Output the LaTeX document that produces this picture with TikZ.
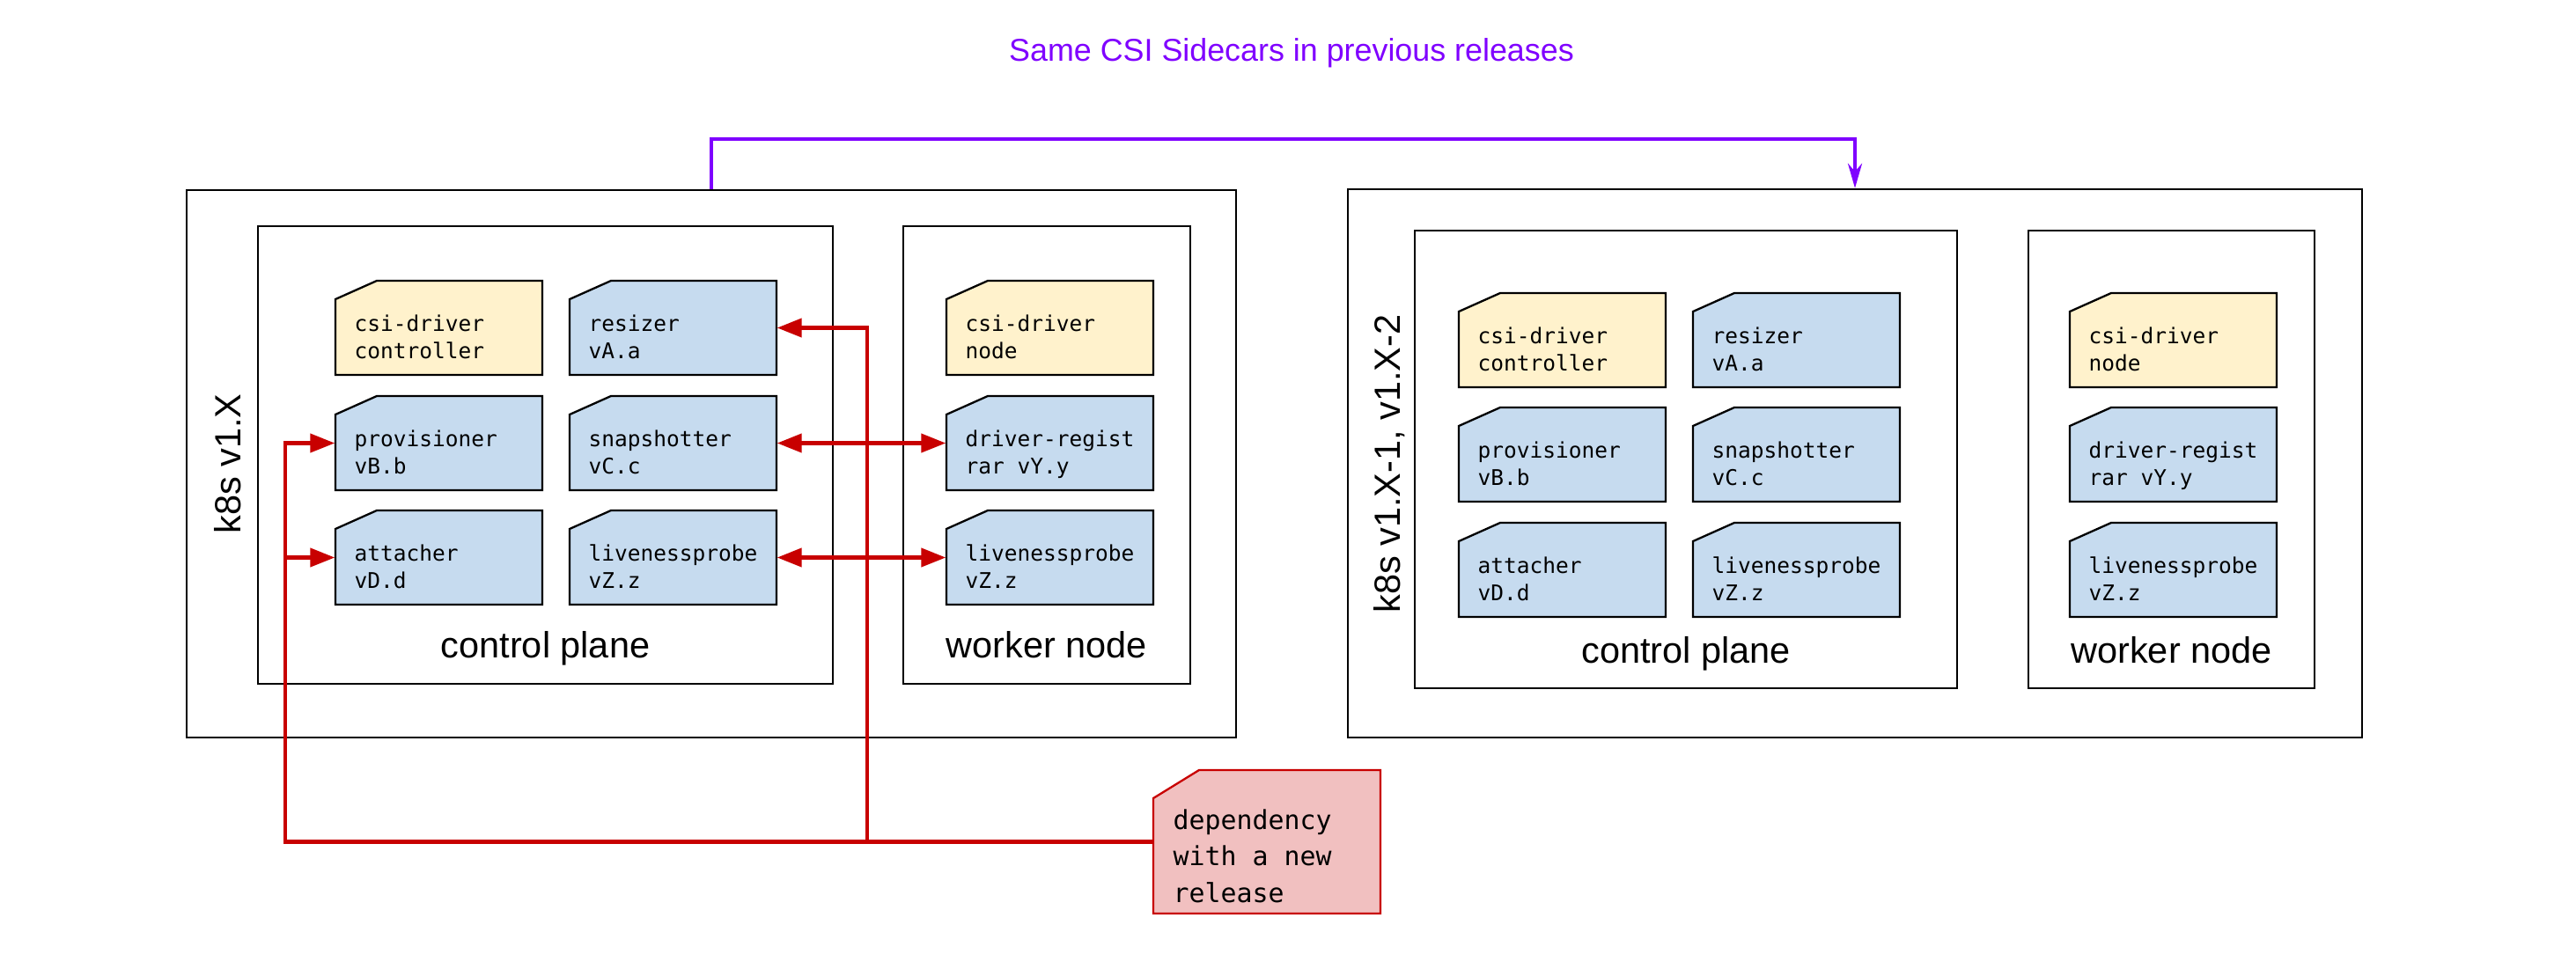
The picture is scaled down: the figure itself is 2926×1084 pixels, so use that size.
\documentclass[tikz,border=0pt]{standalone}
\usepackage{fontspec}
\usepackage{xcolor}
\usetikzlibrary{arrows.meta}
\newfontfamily\labelfont{Liberation Sans}
\newfontfamily\cardfont{DejaVu Sans Mono}
\definecolor{drvyellow}{HTML}{FFF2CC}
\definecolor{carblue}{HTML}{C6DBEF}
\definecolor{deppink}{HTML}{F1C0C0}
\definecolor{depred}{HTML}{C80000}
\definecolor{sidepurple}{HTML}{7F00FF}
\tikzset{
  hostbox/.style={draw,line width=0.23mm,inner sep=0},
  cardedge/.style={draw,line width=0.23mm},
  cardbox/.style={minimum width=23.5mm,minimum height=10.7mm,inner sep=0},
  cardtext/.style={anchor=north west,inner sep=0,align=left,font=\cardfont\fontsize{6.97pt}{8.82pt}\selectfont,execute at begin node=\strut},
  deptext/.style={anchor=north west,inner sep=0,align=left,font=\cardfont\fontsize{8.5pt}{11.8pt}\selectfont,execute at begin node=\strut},
  plane/.style={anchor=base,inner sep=0,font=\labelfont\fontsize{11.8pt}{14pt}\selectfont},
  k8slabel/.style={rotate=90,inner sep=0,font=\labelfont\fontsize{11.8pt}{14pt}\selectfont},
  titletext/.style={inner sep=0,text=sidepurple,font=\labelfont\fontsize{10.2pt}{12pt}\selectfont},
  dep/.style={draw=depred,line width=0.42mm},
  deparrow/.style={dep,-{Triangle[length=2.8mm,width=2.1mm]}},
  depboth/.style={dep,{Triangle[length=2.8mm,width=2.1mm]}-{Triangle[length=2.8mm,width=2.1mm]}},
  samelink/.style={draw=sidepurple,line width=0.42mm,-{Stealth[length=2.8mm,width=1.6mm,inset=0.9mm]}}
}
% name, left, top, fill, text
\newcommand{\sidecar}[5]{%
  \filldraw[cardedge,fill=#4] (#2,#3+21) -- (#2+47,#3) -- (#2+235,#3) -- (#2+235,#3+107) -- (#2,#3+107) -- cycle;
  \node[cardbox] (#1) at (#2+117.5,#3+53.5) {};
  \node[cardtext] at (#2+21,#3+38) {#5};
}
\begin{document}
\begin{tikzpicture}[x=0.1mm,y=-0.1mm]
\useasboundingbox (0,0) rectangle (2926,1084);
\node[hostbox,minimum width=119.2mm,minimum height=62.2mm] (k8sA) at (808,527) {};
\node[hostbox,minimum width=115.2mm,minimum height=62.3mm] (k8sB) at (2107,526.5) {};
\node[hostbox,minimum width=65.3mm,minimum height=52mm] (cpA) at (619.5,517) {};
\node[hostbox,minimum width=32.6mm,minimum height=52mm] (wnA) at (1189,517) {};
\node[hostbox,minimum width=61.6mm,minimum height=52mm] (cpB) at (1915,522) {};
\node[hostbox,minimum width=32.5mm,minimum height=52mm] (wnB) at (2466.5,522) {};

\sidecar{drvA}{381}{319}{drvyellow}{csi-driver\\controller}
\sidecar{resA}{647}{319}{carblue}{resizer\\vA.a}
\sidecar{provA}{381}{450}{carblue}{provisioner\\vB.b}
\sidecar{snapA}{647}{450}{carblue}{snapshotter\\vC.c}
\sidecar{attA}{381}{580}{carblue}{attacher\\vD.d}
\sidecar{liveA}{647}{580}{carblue}{livenessprobe\\vZ.z}
\sidecar{wdrvA}{1075}{319}{drvyellow}{csi-driver\\node}
\sidecar{regA}{1075}{450}{carblue}{driver-regist\\rar vY.y}
\sidecar{wliveA}{1075}{580}{carblue}{livenessprobe\\vZ.z}

\sidecar{drvB}{1657}{333}{drvyellow}{csi-driver\\controller}
\sidecar{resB}{1923}{333}{carblue}{resizer\\vA.a}
\sidecar{provB}{1657}{463}{carblue}{provisioner\\vB.b}
\sidecar{snapB}{1923}{463}{carblue}{snapshotter\\vC.c}
\sidecar{attB}{1657}{594}{carblue}{attacher\\vD.d}
\sidecar{liveB}{1923}{594}{carblue}{livenessprobe\\vZ.z}
\sidecar{wdrvB}{2351}{333}{drvyellow}{csi-driver\\node}
\sidecar{regB}{2351}{463}{carblue}{driver-regist\\rar vY.y}
\sidecar{wliveB}{2351}{594}{carblue}{livenessprobe\\vZ.z}

\node[plane] (cpAlbl) at (619.5,747) {control plane};
\node[plane] (wnAlbl) at (1189,747) {worker node};
\node[plane] (cpBlbl) at (1915,753) {control plane};
\node[plane] (wnBlbl) at (2466.5,753) {worker node};
\node[k8slabel] (verA) at (259,527) {k8s v1.X};
\node[k8slabel] (verB) at (1578,527) {k8s v1.X-1, v1.X-2};

\filldraw[draw=depred,fill=deppink,line width=0.23mm] (1310,907) -- (1362,875) -- (1568,875) -- (1568,1038) -- (1310,1038) -- cycle;
\node[minimum width=25.8mm,minimum height=16.3mm,inner sep=0] (dep) at (1439,956.5) {};
\node[deptext] at (1332,919) {dependency\\with a new\\release};

\coordinate (jl) at (324,956.5);
\coordinate (jm) at (985,956.5);
\draw[deparrow] (dep.west) -- (jl) |- (provA.west);
\draw[deparrow] (jl |- attA.west) -- (attA.west);
\draw[deparrow] (jm) |- (resA.east);
\draw[depboth] (snapA.east) -- (regA.west);
\draw[depboth] (liveA.east) -- (wliveA.west);

\draw[samelink] (k8sA.north) -- ++(0,-57) -| (k8sB.north);
\node[titletext] (title) at (1467,60) {Same CSI Sidecars in previous releases};
\end{tikzpicture}
\end{document}
